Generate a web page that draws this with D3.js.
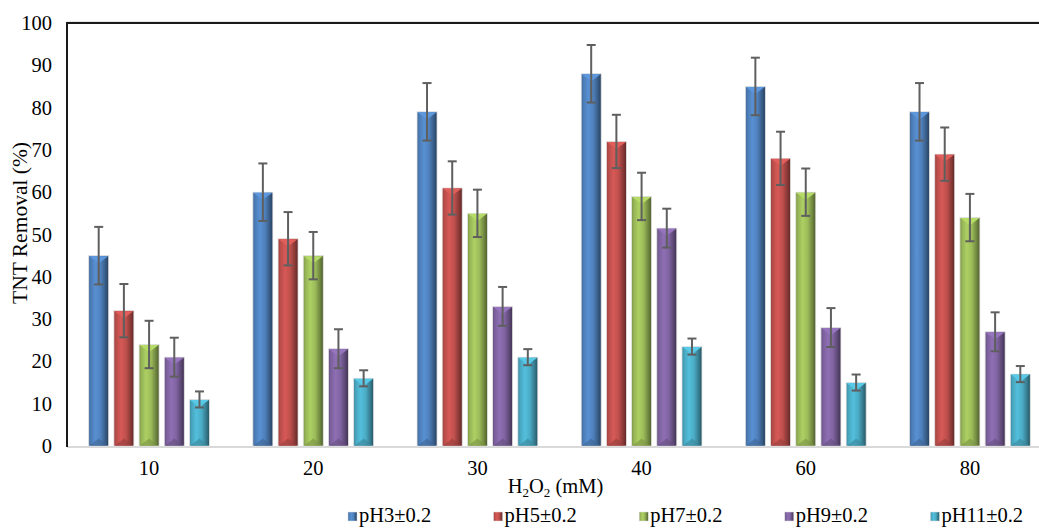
<!DOCTYPE html>
<html><head><meta charset="utf-8">
<script src="https://cdn.jsdelivr.net/npm/d3@7/dist/d3.min.js"></script>
<style>
html,body{margin:0;padding:0;background:#fff;}
svg text{font-family:"Liberation Serif","Times New Roman",serif;fill:#000;}
</style></head>
<body><svg id="chart" width="1039" height="529"></svg>
<script>
const categories = ["10", "20", "30", "40", "60", "80"];
const seriesNames = ["pH3±0.2", "pH5±0.2", "pH7±0.2", "pH9±0.2", "pH11±0.2"];
const pH3 = [45, 60, 79, 88, 85, 79];
const pH5 = [32, 49, 61, 72, 68, 69];
const pH7 = [24, 45, 55, 59, 60, 54];
const pH9 = [21, 23, 33, 51.5, 28, 27];
const pH11 = [11, 16, 21, 23.5, 15, 17];
const seriesErrors = [6.8, 6.3, 5.6, 4.6, 1.9];
const yTicks = [0, 10, 20, 30, 40, 50, 60, 70, 80, 90, 100];
const seriesValues = [pH3, pH5, pH7, pH9, pH11];
const colors = ["#4F81BD", "#C0504D", "#9BBB59", "#8064A2", "#4BACC6"];

const svg = d3.select("#chart");
const mLeft = 67, mTop = 23, mBottom = 446, plotRight = 1052;
const fs = 20.5;

const x0 = d3.scaleBand().domain(categories).range([mLeft, plotRight]).padding(0);
const x1 = d3.scaleBand().domain(seriesNames).range([0, x0.bandwidth()])
  .paddingInner(0.206).paddingOuter(0.861);
const y = d3.scaleLinear().domain([0, 100]).range([mBottom, mTop]);

// gradients
const defs = svg.append("defs");
colors.forEach((c, i) => {
  const base = d3.color(c);
  const g = defs.append("linearGradient").attr("id", "g" + i)
    .attr("x1", "0").attr("x2", "1").attr("y1", "0").attr("y2", "0");
  g.append("stop").attr("offset", "0").attr("stop-color", base.darker(0.6));
  g.append("stop").attr("offset", "0.12").attr("stop-color", base.darker(0.1));
  g.append("stop").attr("offset", "0.35").attr("stop-color", base.brighter(0.3));
  g.append("stop").attr("offset", "0.6").attr("stop-color", base);
  g.append("stop").attr("offset", "0.85").attr("stop-color", base.darker(1.0));
  g.append("stop").attr("offset", "1").attr("stop-color", base.darker(2));
});

// axes lines
svg.append("line").attr("x1", mLeft).attr("x2", 1039).attr("y1", mBottom + 1).attr("y2", mBottom + 1)
  .attr("stroke", "#d9d9d9").attr("stroke-width", 2);
svg.append("line").attr("x1", mLeft).attr("x2", 1039).attr("y1", mTop - 1.5).attr("y2", mTop - 1.5)
  .attr("stroke", "#e6e6e6").attr("stroke-width", 1);
svg.append("line").attr("x1", mLeft - 1).attr("x2", 1039).attr("y1", mTop).attr("y2", mTop)
  .attr("stroke", "#1a1a1a").attr("stroke-width", 2);
svg.append("line").attr("x1", mLeft).attr("x2", mLeft).attr("y1", mTop - 1).attr("y2", mBottom + 1)
  .attr("stroke", "#1a1a1a").attr("stroke-width", 2);

// y axis tick labels
const yAxis = d3.axisLeft(y).tickValues(yTicks).tickSize(0).tickPadding(15).tickFormat(d3.format("d"));
const ya = svg.append("g").attr("transform", `translate(${mLeft},0)`).call(yAxis);
ya.select(".domain").remove();
ya.selectAll("text").attr("font-size", fs).attr("font-family", "Liberation Serif").attr("fill", "#000");

// x axis tick labels
const xAxis = d3.axisBottom(x0).tickSize(0).tickPadding(14);
const xa = svg.append("g").attr("transform", `translate(0,${mBottom})`).call(xAxis);
xa.select(".domain").remove();
xa.selectAll("text").attr("font-size", fs).attr("font-family", "Liberation Serif").attr("fill", "#000");

// bars
const groups = svg.append("g").selectAll("g").data(categories).join("g")
  .attr("transform", d => `translate(${x0(d)},0)`);

seriesNames.forEach((s, si) => {
  const vals = seriesValues[si];
  const bw = x1.bandwidth();
  const bx = x1(s);
  const base = d3.color(colors[si]);
  groups.each(function(cat, ci) {
    const g = d3.select(this);
    const v = vals[ci];
    const yt = y(v), yb = y(0);
    g.append("rect").attr("x", bx).attr("y", yt).attr("width", bw).attr("height", yb - yt)
      .attr("fill", `url(#g${si})`).attr("stroke", "#e4e4e4").attr("stroke-width", 0.8);
    const d = Math.min(bw * 0.38, (yb - yt) / 2);
    g.append("path").attr("d", `M${bx + 0.5},${yt + 0.5}L${bx + bw - 0.5},${yt + 0.5}L${bx + bw / 2},${yt + d}Z`)
      .attr("fill", base.brighter(0.45));
    g.append("path").attr("d", `M${bx + 0.5},${yb}L${bx + bw - 0.5},${yb}L${bx + bw / 2},${yb - d}Z`)
      .attr("fill", base.darker(0.7)).attr("opacity", 0.6);
    const e = seriesErrors[si];
    const cx = bx + bw / 2;
    const eg = g.append("g").attr("stroke", "#5f5f5f").attr("stroke-width", 2);
    eg.append("line").attr("x1", cx).attr("x2", cx).attr("y1", y(v + e)).attr("y2", y(v - e));
    eg.append("line").attr("x1", cx - 4.5).attr("x2", cx + 4.5).attr("y1", y(v + e)).attr("y2", y(v + e));
    eg.append("line").attr("x1", cx - 4.5).attr("x2", cx + 4.5).attr("y1", y(v - e)).attr("y2", y(v - e));
  });
});

// axis titles
svg.append("text").attr("transform", `translate(22,${223}) rotate(-90)`)
  .attr("text-anchor", "middle").attr("dominant-baseline", "middle")
  .attr("font-size", 21.5).text("TNT Removal (%)");

const xt = svg.append("text").attr("x", (mLeft + plotRight) / 2 - 4).attr("y", 493)
  .attr("text-anchor", "middle").attr("font-size", fs);
xt.append("tspan").text("H");
xt.append("tspan").text("2").attr("font-size", 13).attr("dy", 4);
xt.append("tspan").text("O").attr("dy", -4);
xt.append("tspan").text("2").attr("font-size", 13).attr("dy", 4);
xt.append("tspan").text(" (mM)").attr("dy", -4);

// legend
const legendX = d3.scaleBand().domain(seriesNames).range([348, 1076]);
const lg = svg.append("g").selectAll("g").data(seriesNames).join("g")
  .attr("transform", d => `translate(${legendX(d)},517)`);
lg.append("rect").attr("x", 0).attr("y", -5).attr("width", 9).attr("height", 9)
  .attr("fill", (d, i) => `url(#g${i})`).attr("stroke", "#ddd").attr("stroke-width", 0.5);
lg.append("text").attr("x", 11).attr("y", 0).attr("dominant-baseline", "middle")
  .attr("font-size", fs).text(d => d);
</script></body></html>
